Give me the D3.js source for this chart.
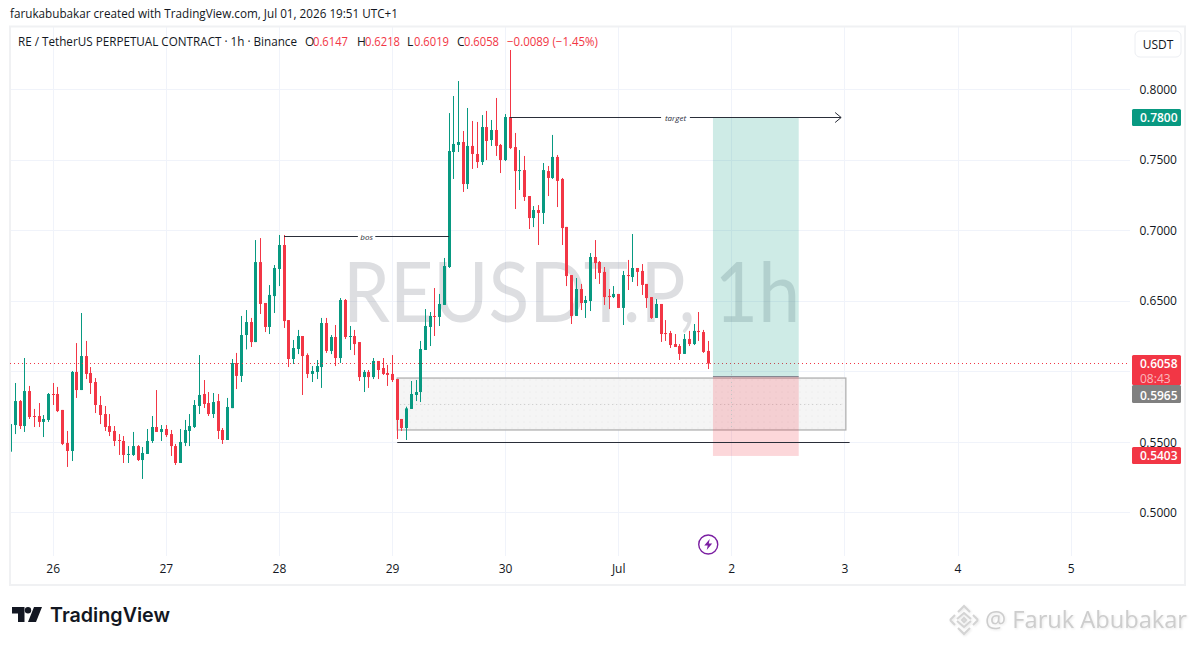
<!DOCTYPE html>
<html>
<head>
<meta charset="utf-8">
<script src="https://cdn.jsdelivr.net/npm/d3@7"></script>
<style>
  html, body { margin: 0; padding: 0; background: #fff; }
  svg { display: block; font-family: "Open Sans", "DejaVu Sans", sans-serif; }
</style>
</head>
<body>
<svg id="chart" width="1195" height="645"></svg>
<script>
// hours are counted from 26 June 00:00, first candle is -9
const firstHour = -9;

const opens = [
  .5433,.5622,.5792,.5615,.5863,.5686,.5686,.5644,.5658,.5842,.5842,.5729,.5495,.5438,.5998,.5870,.6111,.5991,.5927,.5764,
  .5700,.5615,.5580,.5516,.5509,.5410,.5410,.5473,.5374,.5417,.5509,.5608,.5573,.5594,.5558,.5473,.5353,.5495,.5580,.5608,
  .5757,.5842,.5778,.5700,.5792,.5587,.5516,.5742,.6061,.5970,.6260,.6352,.6210,.6777,.6487,.6317,.6536,.6728,.6898,.6366,
  .6090,.6161,.6253,.6118,.5984,.5998,.6033,.6345,.6147,.6246,.6097,.6508,.6246,.6253,.6210,.5962,.5998,.5962,.6076,.6026,
  .5991,.5984,.5948,.5665,.5601,.5736,.5835,.5856,.6154,.6317,.6395,.6388,.6473,.6742,.7557,.7607,.7628,.7330,.7600,.7543,
  .7486,.7734,.7642,.7713,.7607,.7500,.7805,.7592,.7422,.7429,.7245,.7089,.7146,.7125,.7422,.7373,.7522,.7366,.7026,.6685,
  .6395,.6586,.6487,.6501,.6813,.6778,.6707,.6537,.6529,.6551,.6452,.6685,.6671,.6735,.6714,.6622,.6529,.6381,.6480,.6274,
  .6274,.6196,.6182,.6126,.6232,.6196,.6289,.6281,.6147
];
const highs = [
  .5788,.5920,.5799,.6097,.5899,.5736,.5778,.5693,.5849,.5920,.5892,.5729,.5580,.6005,.6203,.6416,.6218,.6033,.5955,.5828,
  .5757,.5700,.5615,.5558,.5544,.5473,.5573,.5480,.5466,.5594,.5686,.5870,.5622,.5622,.5587,.5488,.5594,.5658,.5700,.5799,
  .6118,.5941,.5856,.5849,.5842,.5601,.5814,.6090,.6133,.6395,.6437,.6381,.6933,.6947,.6487,.6614,.6756,.6969,.6969,.6366,
  .6225,.6296,.6253,.6130,.6040,.6083,.6381,.6381,.6260,.6331,.6522,.6515,.6324,.6296,.6210,.6012,.6012,.6097,.6076,.6097,
  .6048,.6118,.5948,.5665,.5752,.5934,.5941,.6218,.6444,.6423,.6593,.6551,.6806,.7833,.7954,.8060,.7706,.7869,.7777,.7770,
  .7819,.7848,.7784,.7940,.7614,.7826,.8280,.7692,.7571,.7529,.7245,.7174,.7181,.7479,.7458,.7678,.7536,.7373,.7026,.6685,
  .6664,.6622,.6537,.6841,.6933,.6785,.6742,.6586,.6607,.6551,.6714,.6792,.6976,.6735,.6763,.6622,.6529,.6515,.6480,.6366,
  .6289,.6267,.6196,.6267,.6289,.6338,.6423,.6296,.6218
];
const lows = [
  .5433,.5558,.5594,.5573,.5665,.5608,.5608,.5537,.5644,.5764,.5714,.5480,.5325,.5367,.5814,.5870,.5948,.5842,.5707,.5629,
  .5580,.5544,.5473,.5410,.5353,.5353,.5403,.5367,.5240,.5417,.5495,.5573,.5509,.5537,.5403,.5339,.5353,.5473,.5473,.5601,
  .5700,.5743,.5686,.5672,.5523,.5488,.5516,.5742,.5877,.5927,.6158,.6175,.6210,.6409,.6281,.6267,.6416,.6607,.6310,.6033,
  .6055,.6125,.5835,.5955,.5927,.5948,.5885,.6133,.6125,.6040,.6062,.6232,.6154,.6118,.5934,.5856,.5885,.5948,.5948,.5977,
  .5899,.5927,.5523,.5580,.5516,.5736,.5792,.5785,.6154,.6182,.6253,.6324,.6473,.6735,.7366,.7557,.7274,.7295,.7437,.7444,
  .7465,.7500,.7600,.7529,.7408,.7493,.7578,.7153,.7288,.7210,.7011,.7025,.6898,.7047,.7245,.7366,.7167,.6898,.6607,.6338,
  .6395,.6437,.6381,.6430,.6657,.6622,.6473,.6444,.6522,.6452,.6331,.6579,.6636,.6607,.6544,.6452,.6374,.6381,.6211,.6218,
  .6168,.6175,.6083,.6126,.6182,.6189,.6218,.6133,.6019
];
const closes = [
  .5629,.5792,.5615,.5863,.5679,.5679,.5644,.5665,.5842,.5835,.5721,.5488,.5438,.5998,.5870,.6111,.5984,.5920,.5764,.5693,
  .5608,.5573,.5509,.5509,.5410,.5417,.5473,.5374,.5424,.5509,.5608,.5573,.5594,.5551,.5473,.5353,.5502,.5587,.5615,.5764,
  .5835,.5771,.5700,.5785,.5580,.5516,.5750,.6061,.5970,.6260,.6352,.6210,.6777,.6480,.6317,.6544,.6735,.6898,.6359,.6090,
  .6168,.6253,.6111,.5984,.6005,.6040,.6345,.6147,.6246,.6097,.6508,.6246,.6253,.6196,.5962,.5998,.5962,.6076,.6012,.5984,
  .5977,.5941,.5658,.5601,.5740,.5842,.5856,.6161,.6324,.6395,.6388,.6480,.6749,.7564,.7614,.7628,.7330,.7600,.7543,.7486,
  .7734,.7635,.7713,.7600,.7500,.7805,.7585,.7422,.7429,.7238,.7089,.7146,.7125,.7429,.7373,.7522,.7352,.7018,.6678,.6395,
  .6586,.6487,.6508,.6813,.6770,.6700,.6529,.6529,.6551,.6452,.6685,.6678,.6735,.6707,.6615,.6522,.6381,.6480,.6267,.6267,
  .6189,.6175,.6126,.6232,.6196,.6289,.6281,.6140,.6058
];

const priceTicks = [0.8, 0.75, 0.7, 0.65, 0.55, 0.5];
const priceGrid = [0.8, 0.75, 0.7, 0.65, 0.6, 0.55, 0.5];
const dayHours = [0, 24, 48, 72, 96, 120, 144, 168, 192, 216];
const dayLabels = ["26", "27", "28", "29", "30", "Jul", "2", "3", "4", "5"];

const lastPrice = 0.6058;
const target = 0.78;
const entry = 0.5965;
const stop = 0.5403;
const positionHours = [140, 158.2];
const targetArrowHours = [96.9, 167.2];
const bosHours = [49, 84];
const bosPrice = 0.696;
const zoneHours = [73, 168.2];
const zonePrices = [0.5955, 0.5587];
const floorHours = [73, 169];
const floorPrice = 0.5495;
const guideHour = 144;
const guidePrices = [0.6012, 0.5608];
const eventHour = 139;

const titleText = "RE / TetherUS PERPETUAL CONTRACT · 1h · Binance";
const ohlcLabels = ["O", "H", "L", "C"];
const ohlcValues = ["0.6147", "0.6218", "0.6019", "0.6058"];
const changeText = "−0.0089 (−1.45%)";

const green = "#089981";
const red = "#f23645";
const gridColor = "#f0f3fa";

const svg = d3.select("#chart");

const x = d3.scaleLinear().domain([0, 24]).range([53.2, 166.3]);
const y = d3.scaleLinear().domain([0.8, 0.5]).range([89.5, 512.8]);
const snap = (v) => Math.floor(v) + 0.5;

const paneLeft = 10, paneRight = 1130, paneTop = 27, paneBottom = 556, axisBottom = 585, frameRight = 1185;

// header line above the frame
svg.append("text").attr("x", 10).attr("y", 18).attr("font-size", 12).attr("fill", "#131722")
  .attr("textLength", 388).attr("lengthAdjust", "spacingAndGlyphs")
  .text("farukabubakar created with TradingView.com, Jul 01, 2026 19:51 UTC+1");

const defs = svg.append("defs");
defs.append("clipPath").attr("id", "pane").append("rect")
  .attr("x", paneLeft + 1).attr("y", paneTop).attr("width", paneRight - paneLeft - 1).attr("height", paneBottom - paneTop);

// grid
const gridG = svg.append("g").attr("clip-path", "url(#pane)");
gridG.selectAll(".gx").data(dayHours).join("line")
  .attr("x1", (d) => snap(x(d))).attr("x2", (d) => snap(x(d)))
  .attr("y1", paneTop).attr("y2", axisBottom).attr("stroke", gridColor);
gridG.selectAll(".gy").data(priceGrid).join("line")
  .attr("y1", (d) => snap(y(d))).attr("y2", (d) => snap(y(d)))
  .attr("x1", paneLeft).attr("x2", paneRight).attr("stroke", gridColor);

// frame
svg.append("rect").attr("x", 10).attr("y", 26.5).attr("width", frameRight - 10).attr("height", axisBottom - 26.5)
  .attr("fill", "none").attr("stroke", "#f0f1f3").attr("stroke-width", 2);

// watermark
svg.append("text").attr("x", 343).attr("y", 322)
  .attr("font-size", 84).attr("fill", "#787b86").attr("fill-opacity", 0.25)
  .attr("font-family", "Lato, sans-serif")
  .attr("textLength", 457).attr("lengthAdjust", "spacingAndGlyphs")
  .text("REUSDT.P, 1h");

// candles
const plot = svg.append("g").attr("clip-path", "url(#pane)");
const candles = opens.map((o, i) => ({ h: firstHour + i, o, c: closes[i], hi: highs[i], lo: lows[i] }));
const candle = plot.selectAll(".candle").data(candles).join("g").attr("class", "candle")
  .attr("fill", (d) => (d.c >= d.o ? green : red));
candle.append("rect")
  .attr("x", (d) => Math.floor(x(d.h)))
  .attr("width", 1)
  .attr("y", (d) => y(d.hi))
  .attr("height", (d) => y(d.lo) - y(d.hi));
candle.append("rect")
  .attr("x", (d) => Math.floor(x(d.h)) - 1)
  .attr("width", 3)
  .attr("y", (d) => y(Math.max(d.o, d.c)))
  .attr("height", (d) => Math.max(1, Math.abs(y(d.o) - y(d.c))));

// demand zone
const pattern = defs.append("pattern").attr("id", "dots")
  .attr("width", 6).attr("height", 6).attr("patternUnits", "userSpaceOnUse");
pattern.append("rect").attr("width", 6).attr("height", 6).attr("fill", "#f2f2f2");
pattern.append("circle").attr("cx", 2).attr("cy", 2).attr("r", 0.6).attr("fill", "#e3e3e3");
svg.append("rect")
  .attr("x", x(zoneHours[0])).attr("width", x(zoneHours[1]) - x(zoneHours[0]))
  .attr("y", y(zonePrices[0])).attr("height", y(zonePrices[1]) - y(zonePrices[0]))
  .attr("fill", "url(#dots)").attr("fill-opacity", 0.8).attr("stroke", "#b0b0b0").attr("stroke-width", 1.3);
svg.append("line")
  .attr("x1", x(zoneHours[0]) + 3).attr("x2", x(zoneHours[1]) - 3)
  .attr("y1", snap(y((zonePrices[0] + zonePrices[1]) / 2))).attr("y2", snap(y((zonePrices[0] + zonePrices[1]) / 2)))
  .attr("stroke", "#c8c8c8").attr("stroke-dasharray", "1 3");

// candles stay over the zone
plot.raise();

// last price line
svg.append("line").attr("x1", paneLeft).attr("x2", paneRight)
  .attr("y1", snap(y(lastPrice))).attr("y2", snap(y(lastPrice)))
  .attr("stroke", red).attr("stroke-dasharray", "1 3");

// long position
const posX = x(positionHours[0]), posW = x(positionHours[1]) - x(positionHours[0]);
svg.append("rect").attr("x", posX).attr("width", posW)
  .attr("y", y(target)).attr("height", y(entry) - y(target))
  .attr("fill", green).attr("fill-opacity", 0.2);
svg.append("rect").attr("x", posX).attr("width", posW)
  .attr("y", y(entry)).attr("height", y(stop) - y(entry))
  .attr("fill", red).attr("fill-opacity", 0.2);
svg.append("line").attr("x1", posX).attr("x2", posX + posW)
  .attr("y1", y(entry)).attr("y2", y(entry))
  .attr("stroke", "#787b86");
svg.append("line")
  .attr("x1", snap(x(guideHour))).attr("x2", snap(x(guideHour)))
  .attr("y1", y(guidePrices[0])).attr("y2", y(guidePrices[1]))
  .attr("stroke", "#c4c4c4").attr("stroke-dasharray", "1 3");

// drawings
const lineColor = "#2a2e39";
svg.append("line")
  .attr("x1", x(floorHours[0])).attr("x2", x(floorHours[1]))
  .attr("y1", snap(y(floorPrice))).attr("y2", snap(y(floorPrice))).attr("stroke", lineColor).attr("stroke-width", 1.2);

function labelled(hours, price, label, arrow) {
  const py = snap(y(price));
  const x1 = x(hours[0]), x2 = x(hours[1]), mid = (x1 + x2) / 2;
  svg.append("line").attr("x1", x1).attr("x2", x2).attr("y1", py).attr("y2", py).attr("stroke", lineColor);
  svg.append("rect").attr("x", mid - label.length * 1.9 - 3).attr("y", py - 5)
    .attr("width", label.length * 3.8 + 6).attr("height", 10).attr("fill", "#fff");
  svg.append("text").attr("x", mid).attr("y", py + 3).attr("text-anchor", "middle")
    .attr("font-size", 8).attr("font-style", "italic").attr("fill", lineColor).text(label);
  if (arrow) {
    svg.append("path")
      .attr("d", `M${x2 - 6},${py - 5}L${x2},${py}L${x2 - 6},${py + 5}`)
      .attr("fill", "none").attr("stroke", lineColor);
  }
}
labelled(targetArrowHours, target, "target", true);
labelled(bosHours, bosPrice, "bos", false);

// lightning marker
const eventG = svg.append("g").attr("transform", `translate(${x(eventHour)},544.5)`);
eventG.append("circle").attr("r", 9.5).attr("fill", "#fff").attr("stroke", "#7b1fa2").attr("stroke-width", 1.4);
eventG.append("path").attr("d", "M1.5,-5.5L-4,1L-0.5,1L-1.5,5.5L4,-1L0.5,-1Z").attr("fill", "#7b1fa2");

// axes
const xAxis = d3.axisBottom(x).tickValues(dayHours).tickSize(0).tickPadding(0)
  .tickFormat((d, i) => dayLabels[i]);
const xG = svg.append("g").attr("transform", `translate(-0.5,${paneBottom + 8})`).call(xAxis);
xG.select(".domain").remove();
xG.selectAll("text").attr("font-size", 12).attr("font-family", "'Open Sans', sans-serif").attr("fill", "#131722")
  .attr("dy", "0.71em");

const yAxis = d3.axisRight(y).tickValues(priceTicks).tickSize(0).tickPadding(0)
  .tickFormat(d3.format(".4f"));
const yG = svg.append("g").attr("transform", `translate(1139.5,0)`).call(yAxis);
yG.select(".domain").remove();
yG.selectAll("text").attr("font-size", 12).attr("font-family", "'Open Sans', sans-serif").attr("fill", "#131722");

// price tags
const tags = [
  { value: target, fill: green, top: 109, h: 17, base: 122 },
  { value: lastPrice, fill: red, top: 355, h: 30, base: 367.5, sub: "08:43" },
  { value: entry, fill: "#808080", top: 385, h: 18, base: 399.5 },
  { value: stop, fill: red, top: 447, h: 17, base: 460 },
];
tags.forEach((t) => {
  svg.append("rect").attr("x", 1132).attr("y", t.top).attr("width", 49).attr("height", t.h).attr("rx", 1.5).attr("fill", t.fill);
  svg.append("text").attr("x", 1140).attr("y", t.base)
    .attr("font-size", 12).attr("font-weight", 600).attr("fill", "#fff").text(t.value.toFixed(4));
  if (t.sub) {
    svg.append("text").attr("x", 1140).attr("y", t.base + 15)
      .attr("font-size", 12).attr("fill", "#fff").attr("fill-opacity", 0.65).text(t.sub);
  }
});

// USDT button
svg.append("rect").attr("x", 1135).attr("y", 31).attr("width", 46).attr("height", 26).attr("rx", 5)
  .attr("fill", "#fff").attr("stroke", "#eceef2");
svg.append("text").attr("x", 1158).attr("y", 48.5).attr("text-anchor", "middle").attr("font-size", 12)
  .attr("fill", "#131722").text("USDT");

// legend line
const legend = svg.append("g").attr("font-size", 12).attr("fill", "#131722").attr("transform", "translate(0,46)");
legend.append("text").attr("x", 18).attr("textLength", 279).attr("lengthAdjust", "spacingAndGlyphs").text(titleText);
const labelX = [305, 357, 407, 457];
const valueX = [313, 365, 414, 464];
ohlcLabels.forEach((l, i) => {
  legend.append("text").attr("x", labelX[i]).text(l);
  legend.append("text").attr("x", valueX[i]).attr("fill", red)
    .attr("textLength", 35).attr("lengthAdjust", "spacingAndGlyphs").text(ohlcValues[i]);
});
legend.append("text").attr("x", 507).attr("fill", red)
  .attr("textLength", 91).attr("lengthAdjust", "spacingAndGlyphs").text(changeText);

// footer logo
const logo = svg.append("g").attr("transform", "translate(12,607)").attr("fill", "#131722");
logo.append("path").attr("d", "M0,0H12.5V15H6V6.5H0Z");
logo.append("circle").attr("cx", 16).attr("cy", 3.2).attr("r", 3.2);
logo.append("path").attr("d", "M22,0H30L24,15H16Z");
svg.append("text").attr("x", 50).attr("y", 621.5).attr("font-family", "Inter, sans-serif")
  .attr("font-size", 20).attr("font-weight", 600).attr("fill", "#131722")
  .attr("textLength", 120).attr("lengthAdjust", "spacingAndGlyphs").text("TradingView");

// author watermark
const stamp = svg.append("g").attr("transform", "translate(964,620)").attr("fill", "none")
  .attr("stroke", "#d4d4d4").attr("stroke-width", 2).style("filter", "drop-shadow(1px 1px 1px #e8e8e8)");
stamp.append("path").attr("d", "M-6,-8L0,-14L6,-8M-14,0L-9,-5M14,0L9,-5M-14,0L-9,5M14,0L9,5M-6,8L0,14L6,8");
stamp.append("path").attr("d", "M-7,-1L0,-7L7,-1M-7,1L0,7L7,1");
stamp.append("path").attr("d", "M0,-2L2,0L0,2L-2,0Z");
svg.append("text").attr("x", 985).attr("y", 628).attr("font-size", 24).attr("font-family", "'Open Sans', sans-serif")
  .attr("fill", "#cdcdcd").attr("textLength", 202).attr("lengthAdjust", "spacingAndGlyphs")
  .style("filter", "drop-shadow(1px 1px 1px #e8e8e8)").text("@ Faruk Abubakar");
</script>
</body>
</html>
